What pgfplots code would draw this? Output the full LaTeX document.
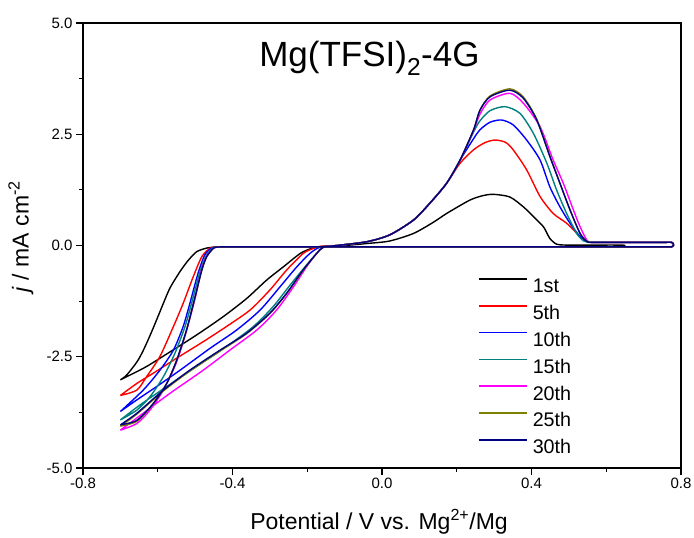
\documentclass[border=0pt]{standalone}
\usepackage{fontspec}
\setmainfont{Liberation Sans}
\usepackage{pgfplots}
\pgfplotsset{compat=1.18}

\definecolor{cteal}{RGB}{0,128,128}
\definecolor{colive}{RGB}{128,128,0}
\definecolor{cnavy}{RGB}{0,0,128}
\definecolor{cmag}{RGB}{255,0,255}

\begin{document}
\begin{tikzpicture}
\useasboundingbox (-83bp,-70bp) rectangle (611bp,468bp);
\begin{axis}[
  scale only axis, width=598bp, height=445bp,
  xmin=-0.8, xmax=0.8, ymin=-5, ymax=5,
  xtick={-0.8,-0.4,0,0.4,0.8}, minor xtick={-0.6,-0.2,0.2,0.6},
  ytick={-5,-2.5,0,2.5,5}, minor ytick={-3.75,-1.25,1.25,3.75},
  xtick pos=bottom, ytick pos=left, tick align=outside,
  major tick length=7bp, minor tick length=4bp,
  axis line style={line width=1.3bp},
  every tick/.style={black, line width=1.1bp},
  /pgf/number format/assume math mode=true,
  /pgf/number format/.cd, fixed, fixed zerofill, precision=1, /pgfplots/.cd,
  tick label style={font=\fontsize{15bp}{18bp}\selectfont},
  xlabel={Potential / V vs. Mg\textsuperscript{2+}/Mg},
  ylabel={\textit{j} / mA cm\textsuperscript{-2}},
  label style={font=\fontsize{23bp}{27bp}\selectfont},
  xlabel style={at={(axis description cs:0.495,-0.139)}, anchor=base},
  ylabel style={at={(axis description cs:-0.104,0.52)}, anchor=center},
  legend style={at={(rel axis cs:0.6605,0.427)}, anchor=north west,
    draw=none, fill=none, inner sep=0pt, row sep=12bp,
    font=\fontsize{19.7bp}{22bp}\selectfont,
    nodes={inner sep=0pt, text height=14bp, text depth=0bp}},
  legend cell align=left,
  legend image code/.code={\draw[#1, line width=1.6bp] (0bp,7bp) -- (48bp,7bp);},
  /tikz/every odd column/.append style={column sep=5bp},
  every axis plot/.append style={line width=1.4bp, line join=round, smooth, tension=0.45},
]
% 1st
\addplot[black] coordinates {
(-0.700,-3.02) (-0.674,-2.91) (-0.630,-2.72) (-0.567,-2.39) (-0.496,-2.01)
(-0.425,-1.60) (-0.362,-1.19) (-0.309,-0.78) (-0.264,-0.48) (-0.219,-0.18)
(-0.190,-0.07) (-0.160,-0.02) (-0.100,0.00) (-0.040,0.045) (0.020,0.10)
(0.084,0.27) (0.137,0.52) (0.173,0.72) (0.235,1.02) (0.270,1.12) (0.298,1.15)
(0.342,1.09) (0.378,0.87) (0.405,0.65) (0.432,0.42) (0.449,0.16) (0.467,0.03)
(0.490,0.01) (0.540,0.01) (0.600,0.01) (0.640,0.01) (0.650,0.0) (0.640,-0.02)
(0.600,-0.03) (0.500,-0.03) (0.400,-0.03) (0.300,-0.03) (0.200,-0.03)
(0.100,-0.03) (0.000,-0.03) (-0.100,-0.03) (-0.200,-0.03) (-0.300,-0.03)
(-0.380,-0.03) (-0.420,-0.03) (-0.445,-0.035) (-0.470,-0.06)
(-0.496,-0.14) (-0.518,-0.33) (-0.540,-0.58) (-0.567,-0.95) (-0.585,-1.30)
(-0.603,-1.67) (-0.621,-2.03) (-0.640,-2.38) (-0.656,-2.62) (-0.683,-2.91)
(-0.700,-3.02)};
\addlegendentry{1st}
% 5th
\addplot[red] coordinates {
(-0.700,-3.37) (-0.656,-3.10) (-0.612,-2.87) (-0.549,-2.53) (-0.478,-2.16)
(-0.416,-1.82) (-0.353,-1.45) (-0.300,-1.00) (-0.255,-0.55) (-0.211,-0.18)
(-0.185,-0.07) (-0.166,-0.02) (-0.120,0.00) (-0.040,0.085) (0.021,0.24)
(0.084,0.57) (0.128,0.95) (0.173,1.40) (0.209,1.85) (0.245,2.15) (0.275,2.31)
(0.302,2.37) (0.330,2.32) (0.351,2.15) (0.387,1.70) (0.423,1.10) (0.458,0.72)
(0.494,0.50) (0.530,0.20) (0.548,0.09) (0.560,0.07) (0.600,0.07) (0.680,0.07)
(0.750,0.07) (0.775,0.07) (0.780,0.02) (0.775,-0.03) (0.740,-0.03)
(0.650,-0.03) (0.550,-0.03) (0.450,-0.03) (0.350,-0.03) (0.250,-0.03)
(0.150,-0.03) (0.050,-0.03) (-0.050,-0.03) (-0.150,-0.03) (-0.250,-0.03)
(-0.340,-0.03) (-0.400,-0.03) (-0.430,-0.03) (-0.445,-0.035)
(-0.460,-0.06) (-0.482,-0.25) (-0.505,-0.70) (-0.532,-1.30)
(-0.558,-1.82) (-0.594,-2.49) (-0.630,-2.95) (-0.656,-3.25) (-0.700,-3.37)};
\addlegendentry{5th}
% 10th
\addplot[blue] coordinates {
(-0.700,-3.73) (-0.656,-3.47) (-0.603,-3.17) (-0.540,-2.80) (-0.460,-2.31)
(-0.389,-1.90) (-0.326,-1.45) (-0.273,-0.93) (-0.228,-0.48) (-0.193,-0.18)
(-0.166,-0.04) (-0.120,0.00) (-0.040,0.085) (0.021,0.24) (0.084,0.57)
(0.128,0.95) (0.173,1.40) (0.209,1.92) (0.245,2.40) (0.262,2.60) (0.289,2.77)
(0.320,2.82) (0.351,2.71) (0.387,2.37) (0.423,1.92) (0.449,1.32) (0.476,0.87)
(0.503,0.50) (0.530,0.20) (0.548,0.09) (0.560,0.07) (0.600,0.07) (0.680,0.07)
(0.750,0.07) (0.775,0.07) (0.780,0.02) (0.775,-0.03) (0.740,-0.03)
(0.650,-0.03) (0.550,-0.03) (0.450,-0.03) (0.350,-0.03) (0.250,-0.03)
(0.150,-0.03) (0.050,-0.03) (-0.050,-0.03) (-0.150,-0.03) (-0.250,-0.03)
(-0.340,-0.03) (-0.400,-0.03) (-0.430,-0.03) (-0.443,-0.035)
(-0.456,-0.06) (-0.474,-0.21) (-0.492,-0.62) (-0.514,-1.30)
(-0.532,-1.82) (-0.558,-2.35) (-0.594,-2.80) (-0.639,-3.25) (-0.700,-3.73)};
\addlegendentry{10th}
% 15th
\addplot[cteal] coordinates {
(-0.700,-3.92) (-0.647,-3.58) (-0.576,-3.17) (-0.496,-2.72) (-0.416,-2.27)
(-0.344,-1.82) (-0.291,-1.37) (-0.246,-0.89) (-0.206,-0.48) (-0.175,-0.18)
(-0.157,-0.04) (-0.120,0.00) (-0.040,0.085) (0.021,0.24) (0.084,0.57)
(0.128,0.95) (0.173,1.40) (0.209,1.92) (0.245,2.55) (0.262,2.80) (0.289,3.03)
(0.329,3.12) (0.369,2.97) (0.405,2.52) (0.441,1.85) (0.467,1.25) (0.494,0.72)
(0.521,0.27) (0.540,0.10) (0.560,0.07) (0.600,0.07) (0.680,0.07)
(0.750,0.07) (0.775,0.07) (0.780,0.02) (0.775,-0.03) (0.740,-0.03)
(0.650,-0.03) (0.550,-0.03) (0.450,-0.03) (0.350,-0.03) (0.250,-0.03)
(0.150,-0.03) (0.050,-0.03) (-0.050,-0.03) (-0.150,-0.03) (-0.250,-0.03)
(-0.340,-0.03) (-0.400,-0.03) (-0.430,-0.03) (-0.441,-0.035)
(-0.453,-0.06) (-0.471,-0.24) (-0.487,-0.59) (-0.507,-1.22)
(-0.527,-1.82) (-0.554,-2.42) (-0.585,-2.95) (-0.621,-3.40) (-0.656,-3.70)
(-0.700,-3.92)};
\addlegendentry{15th}
% 20th
\addplot[cmag] coordinates {
(-0.700,-4.15) (-0.639,-3.77) (-0.567,-3.32) (-0.478,-2.80) (-0.407,-2.35)
(-0.335,-1.90) (-0.282,-1.45) (-0.237,-0.93) (-0.202,-0.48) (-0.175,-0.18)
(-0.157,-0.04) (-0.120,0.00) (-0.040,0.085) (0.021,0.24) (0.084,0.57)
(0.128,0.95) (0.173,1.40) (0.209,1.92) (0.245,2.58) (0.262,2.95) (0.289,3.27)
(0.342,3.42) (0.378,3.20) (0.423,2.67) (0.458,1.92) (0.485,1.40) (0.512,0.80)
(0.530,0.42) (0.548,0.12) (0.560,0.07) (0.600,0.07) (0.680,0.07)
(0.750,0.07) (0.775,0.07) (0.780,0.02) (0.775,-0.03) (0.740,-0.03)
(0.650,-0.03) (0.550,-0.03) (0.450,-0.03) (0.350,-0.03) (0.250,-0.03)
(0.150,-0.03) (0.050,-0.03) (-0.050,-0.03) (-0.150,-0.03) (-0.250,-0.03)
(-0.340,-0.03) (-0.400,-0.03) (-0.430,-0.03) (-0.440,-0.035)
(-0.451,-0.06) (-0.469,-0.24) (-0.483,-0.55) (-0.501,-1.22)
(-0.525,-1.97) (-0.551,-2.65) (-0.585,-3.25) (-0.621,-3.70) (-0.656,-4.00)
(-0.700,-4.15)};
\addlegendentry{20th}
% 25th
\addplot[colive] coordinates {
(-0.700,-4.06) (-0.656,-3.79) (-0.585,-3.27) (-0.514,-2.82) (-0.433,-2.37)
(-0.362,-1.98) (-0.300,-1.53) (-0.255,-1.08) (-0.211,-0.56) (-0.175,-0.18)
(-0.157,-0.04) (-0.120,0.00) (-0.040,0.085) (0.021,0.24) (0.084,0.57)
(0.128,0.95) (0.173,1.40) (0.209,1.92) (0.245,2.60) (0.262,3.04) (0.289,3.36)
(0.342,3.52) (0.378,3.34) (0.414,2.84) (0.449,2.02) (0.476,1.40) (0.503,0.80)
(0.530,0.27) (0.548,0.10) (0.560,0.07) (0.600,0.07) (0.680,0.07)
(0.750,0.07) (0.775,0.07) (0.780,0.02) (0.775,-0.03) (0.740,-0.03)
(0.650,-0.03) (0.550,-0.03) (0.450,-0.03) (0.350,-0.03) (0.250,-0.03)
(0.150,-0.03) (0.050,-0.03) (-0.050,-0.03) (-0.150,-0.03) (-0.250,-0.03)
(-0.340,-0.03) (-0.400,-0.03) (-0.430,-0.03) (-0.440,-0.035)
(-0.451,-0.06) (-0.469,-0.25) (-0.482,-0.55) (-0.500,-1.15)
(-0.523,-1.90) (-0.549,-2.57) (-0.576,-3.10) (-0.612,-3.56) (-0.656,-3.95)
(-0.700,-4.06)};
\addlegendentry{25th}
% 30th
\addplot[cnavy] coordinates {
(-0.700,-4.03) (-0.656,-3.77) (-0.585,-3.25) (-0.514,-2.80) (-0.433,-2.35)
(-0.362,-1.97) (-0.300,-1.52) (-0.255,-1.07) (-0.211,-0.55) (-0.175,-0.18)
(-0.157,-0.04) (-0.120,0.00) (-0.040,0.085) (0.021,0.24) (0.084,0.57)
(0.128,0.95) (0.173,1.40) (0.209,1.92) (0.245,2.60) (0.262,3.04) (0.289,3.34)
(0.342,3.49) (0.378,3.31) (0.414,2.82) (0.449,2.00) (0.476,1.40) (0.503,0.80)
(0.530,0.27) (0.548,0.09) (0.560,0.07) (0.600,0.07) (0.680,0.07)
(0.750,0.07) (0.775,0.07) (0.780,0.02) (0.775,-0.03) (0.740,-0.03)
(0.650,-0.03) (0.550,-0.03) (0.450,-0.03) (0.350,-0.03) (0.250,-0.03)
(0.150,-0.03) (0.050,-0.03) (-0.050,-0.03) (-0.150,-0.03) (-0.250,-0.03)
(-0.340,-0.03) (-0.400,-0.03) (-0.430,-0.03) (-0.440,-0.035)
(-0.451,-0.06) (-0.469,-0.25) (-0.482,-0.55) (-0.500,-1.15)
(-0.523,-1.90) (-0.549,-2.57) (-0.576,-3.10) (-0.612,-3.55) (-0.656,-3.93)
(-0.700,-4.03)};
\addlegendentry{30th}
\node[anchor=base, font=\fontsize{35bp}{40bp}\selectfont]
  at (rel axis cs:0.479,0.902) {Mg(TFSI)\textsubscript{2}-4G};
\end{axis}
\end{tikzpicture}
\end{document}
